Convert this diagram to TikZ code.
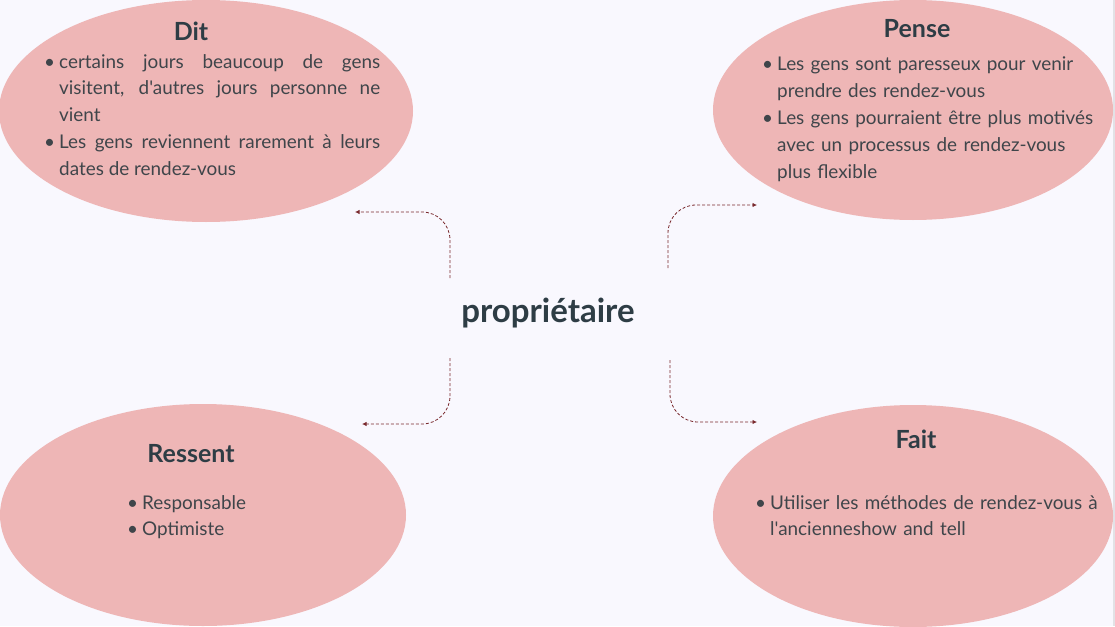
\documentclass[tikz,border=0pt]{standalone}
\usepackage{fontspec}
\setmainfont{Lato}[Ligatures=TeXOff]
\usetikzlibrary{arrows.meta,shapes.geometric}
\definecolor{bg}{HTML}{F9F8FE}
\definecolor{pinkfill}{HTML}{EEB6B6}
\definecolor{titlec}{HTML}{2E3D45}
\definecolor{bodyc}{HTML}{3F454A}
\definecolor{linkc}{HTML}{7A2A2E}
\definecolor{edgec}{HTML}{E2E2E6}
\newcommand\itm[1]{\par\noindent\hangindent=15pt\hangafter=1\makebox[15pt][l]{\textbullet}#1\par}
\begin{document}
\begin{tikzpicture}[x=1pt,y=-1pt,
  bubble/.style={ellipse,fill=pinkfill,draw=none,inner sep=0pt},
  ttl/.style={font=\fontsize{25}{30}\selectfont\bfseries,text=titlec,inner sep=0pt},
  body/.style={font=\fontsize{18.9}{26.8}\selectfont,text=bodyc,inner sep=0pt,anchor=north west},
  link/.style={draw=linkc,dash pattern=on 3pt off 2pt,line width=0.8pt,rounded corners=28pt,-{Latex[length=4.5pt,width=4.5pt]}}]
\useasboundingbox (0,0) rectangle (1115,626);
\fill[bg] (0,0) rectangle (1115,626);
\fill[edgec] (1113,0) rectangle (1115,626);

\node[bubble,minimum width=414pt,minimum height=222pt] (dit) at (206,111) {};
\node[bubble,minimum width=400pt,minimum height=220pt] (pense) at (913,110) {};
\node[bubble,minimum width=406pt,minimum height=222pt] (ressent) at (203,515) {};
\node[bubble,minimum width=400pt,minimum height=222pt] (fait) at (913,516) {};

\node[ttl] (tdit) at (191,31) {Dit};
\node[ttl] (tpense) at (917,29) {Pense};
\node[ttl] (tressent) at (191,454) {Ressent};
\node[ttl] (tfait) at (916,439) {Fait};

\node[body,text width=336pt,align=justify] (bdit) at (44,41) {%
\itm{certains jours beaucoup de gens\linebreak visitent, d'autres jours personne ne\linebreak vient}%
\itm{Les gens reviennent rarement à leurs\linebreak dates de rendez-vous}};

\node[body,text width=345pt,align=left] (bpense) at (762,44) {%
\itm{Les gens sont paresseux pour venir\newline prendre des rendez-vous}%
\itm{Les gens pourraient être plus motivés\newline avec un processus de rendez-vous\newline plus flexible}};

\node[body,text width=250pt,align=left] (bressent) at (127,482) {%
\itm{Responsable}%
\itm{Optimiste}};

\node[body,text width=345pt,align=left] (bfait) at (755,482) {%
\itm{Utiliser les méthodes de rendez-vous à\newline l'ancienneshow and tell}};

\node[font=\fontsize{33}{38}\selectfont\bfseries,text=titlec,inner sep=0pt] (prop) at (548,313) {propriétaire};

\coordinate (s1) at (450,278);
\coordinate (k1) at (450,212);
\coordinate (e1) at (355,212);
\coordinate (s2) at (450,358);
\coordinate (k2) at (450,424);
\coordinate (e2) at (362,424);
\coordinate (s3) at (668,268);
\coordinate (k3) at (668,205);
\coordinate (e3) at (757,205);
\coordinate (s4) at (670,360);
\coordinate (k4) at (670,422);
\coordinate (e4) at (757,422);

\draw[link] (s1) -- (k1) -- (e1);
\draw[link] (s2) -- (k2) -- (e2);
\draw[link] (s3) -- (k3) -- (e3);
\draw[link] (s4) -- (k4) -- (e4);
\end{tikzpicture}
\end{document}
